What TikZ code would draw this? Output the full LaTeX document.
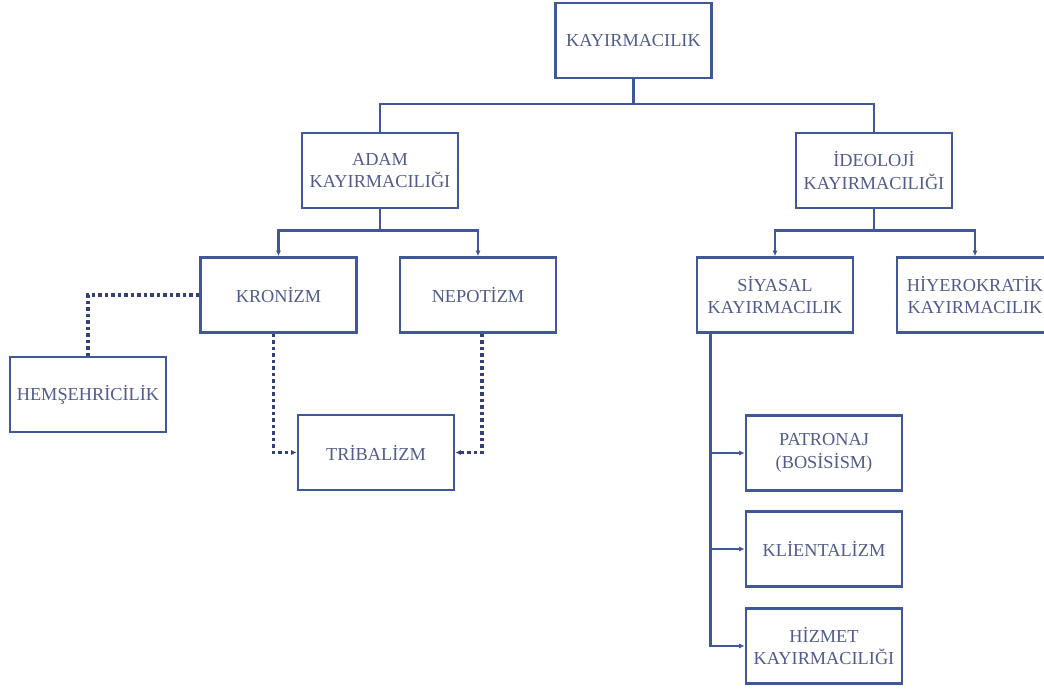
\documentclass[tikz,border=0pt]{standalone}
\usepackage{fontspec}
\setmainfont{Liberation Serif}
\usepackage{xcolor}
\definecolor{boxline}{RGB}{64, 88, 152}
\definecolor{boxtext}{RGB}{82, 92, 140}
\definecolor{dotline}{RGB}{52, 64, 118}
\usetikzlibrary{arrows.meta}

\begin{document}
\begin{tikzpicture}[x=1pt, y=-1pt, >={Latex[length=5.5pt,width=5pt]},
    box/.style={draw=boxline, line width=2.6pt, fill=white, text=boxtext,
        minimum width=156pt, minimum height=75pt, align=center, inner sep=0pt,
        font=\fontsize{18.3}{22.5}\selectfont},
    link/.style={draw=boxline, line width=2.6pt},
    dots/.style={draw=dotline, line width=3.2pt, dash pattern=on 3.5pt off 3pt}]
    \useasboundingbox (0,0) rectangle (1044,688);

    % Root
    \node[box] (kayir) at (633.5,40.5) {KAYIRMACILIK};

    % Second level
    \node[box] (adam) at (380,170.5) {ADAM\\KAYIRMACILIĞI};
    \node[box] (ideo) at (874,170.5) {İDEOLOJİ\\KAYIRMACILIĞI};

    % Third level
    \node[box] (kron) at (278.5,295) {KRONİZM};
    \node[box] (nepo) at (478,295) {NEPOTİZM};
    \node[box] (siya) at (775,295) {SİYASAL\\KAYIRMACILIK};
    \node[box] (hiye) at (975,295) {HİYEROKRATİK\\KAYIRMACILIK};

    % Lower boxes
    \node[box] (hems) at (88,394.5) {HEMŞEHRİCİLİK};
    \node[box] (trib) at (376,452.5) {TRİBALİZM};
    \node[box] (patr) at (824,453) {PATRONAJ\\(BOSİSİSM)};
    \node[box] (klie) at (824,549) {KLİENTALİZM};
    \node[box] (hizm) at (824,646) {HİZMET\\KAYIRMACILIĞI};

    % Tree links
    \draw[link] (kayir.south) -- ++(0,24.5) -| (adam.north);
    \draw[link] (kayir.south) -- ++(0,24.5) -| (ideo.north);
    \draw[link,->] (adam.south) -- ++(0,21) -| (kron.north);
    \draw[link,->] (adam.south) -- ++(0,21) -| (nepo.north);
    \draw[link,->] (ideo.south) -- ++(0,21) -| (siya.north);
    \draw[link,->] (ideo.south) -- ++(0,21) -| (hiye.north);
    \draw[link,->] ([xshift=15pt]siya.south west) |- (patr.west);
    \draw[link,->] ([xshift=15pt]siya.south west) |- (klie.west);
    \draw[link,->] ([xshift=15pt]siya.south west) |- (hizm.west);

    % Dotted links
    \draw[dots] (kron.west) -| (hems.north);
    \draw[dots,->] ([xshift=-5pt]kron.south) |- (trib.west);
    \draw[dots,->] ([xshift=4pt]nepo.south) |- (trib.east);
\end{tikzpicture}
\end{document}
